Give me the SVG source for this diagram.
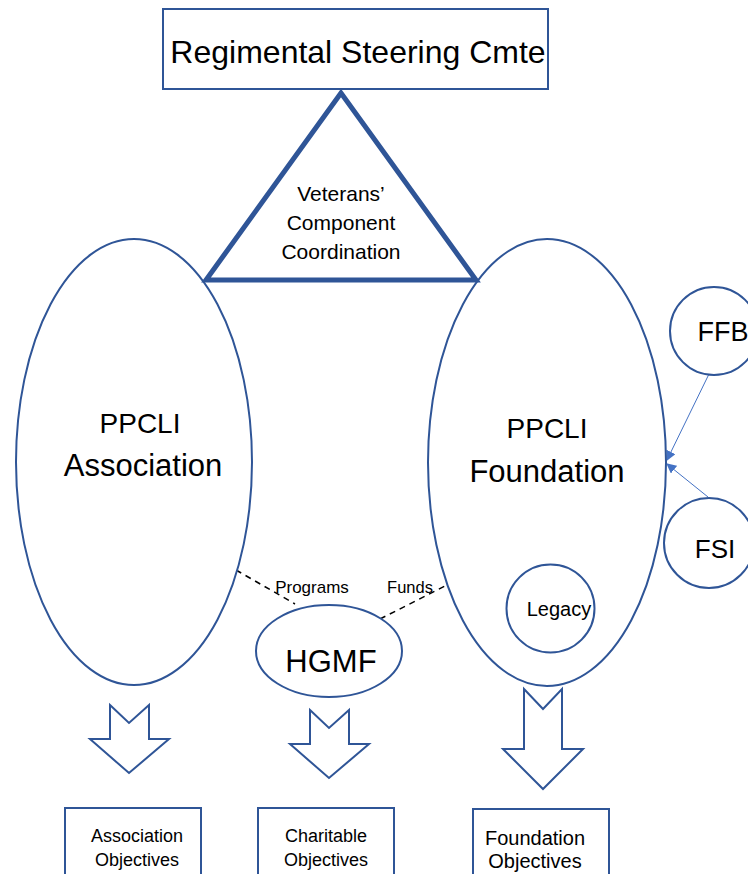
<svg xmlns="http://www.w3.org/2000/svg" width="748" height="874" viewBox="0 0 748 874">
<style>
.s{fill:#fff;stroke:#2F5597;stroke-width:2}
.t{font-family:"Liberation Sans",Arial,sans-serif;fill:#000;text-anchor:middle}
.d{stroke:#000;stroke-width:1.5;stroke-dasharray:6,5;fill:none}
.c{stroke:#4472C4;stroke-width:1;fill:none}
</style>
<defs>
<marker id="ah" markerWidth="10" markerHeight="10" refX="9" refY="5" orient="auto" markerUnits="userSpaceOnUse">
<path d="M0,0 L10,5 L0,10 z" fill="#4472C4"/>
</marker>
</defs>
<rect width="748" height="874" fill="#fff"/>
<g id="connectors">
<line class="d" x1="236" y1="570" x2="295" y2="604"/>
<line class="d" x1="380" y1="619" x2="447" y2="585"/>
<line class="c" x1="709" y1="374" x2="667" y2="460" marker-end="url(#ah)"/>
<line class="c" x1="708" y1="497" x2="667" y2="464" marker-end="url(#ah)"/>
</g>
<g id="steering">
<rect class="s" x="163" y="9" width="385" height="80"/>
<text class="t" x="358" y="63" font-size="32">Regimental Steering Cmte</text>
</g>
<g id="association">
<ellipse class="s" cx="134" cy="462" rx="118" ry="223"/>
<text class="t" x="140" y="433" font-size="28">PPCLI</text>
<text class="t" x="143" y="476" font-size="31">Association</text>
</g>
<g id="foundation">
<ellipse class="s" cx="547" cy="462.5" rx="119" ry="223.5"/>
<text class="t" x="547" y="438" font-size="28">PPCLI</text>
<text class="t" x="547" y="482" font-size="31">Foundation</text>
</g>
<g id="triangle">
<polygon points="341,93 206,280 476,280" fill="#fff" stroke="#2F5597" stroke-width="5" stroke-linejoin="miter"/>
<text class="t" x="341" y="201" font-size="21">Veterans’</text>
<text class="t" x="341" y="230" font-size="21">Component</text>
<text class="t" x="341" y="259" font-size="21">Coordination</text>
</g>
<g id="ffb">
<circle class="s" cx="714" cy="331" r="44"/>
<text class="t" x="723" y="341" font-size="27">FFB</text>
</g>
<g id="fsi">
<circle class="s" cx="709" cy="543" r="45"/>
<text class="t" x="715" y="558" font-size="26">FSI</text>
</g>
<g id="legacy">
<circle class="s" cx="550.5" cy="608.5" r="44"/>
<text class="t" x="559" y="616" font-size="20">Legacy</text>
</g>
<g id="hgmf">
<ellipse class="s" cx="329" cy="651" rx="73" ry="46"/>
<text class="t" x="331" y="672" font-size="31">HGMF</text>
</g>
<g id="labels">
<text class="t" x="312" y="593" font-size="17">Programs</text>
<text class="t" x="410" y="593" font-size="16.5">Funds</text>
</g>
<g id="arrow1">
<polygon class="s" points="110,705 129,723 149,705 149,739 169,739 129,773 90,739 110,739"/>
</g>
<g id="arrow2">
<polygon class="s" points="310,710 329,728 349,710 349,744 369,744 329,778 290,744 310,744"/>
</g>
<g id="arrow3">
<polygon class="s" points="524,689 543,709 562,689 562,749 583,749 543,789 503,749 524,749"/>
</g>
<g id="box1">
<rect class="s" x="65" y="808" width="136" height="80"/>
<text class="t" x="137" y="842" font-size="18">Association</text>
<text class="t" x="137" y="866" font-size="18">Objectives</text>
</g>
<g id="box2">
<rect class="s" x="258" y="808" width="136" height="80"/>
<text class="t" x="326" y="842" font-size="18">Charitable</text>
<text class="t" x="326" y="866" font-size="18">Objectives</text>
</g>
<g id="box3">
<rect class="s" x="473" y="809" width="136" height="80"/>
<text class="t" x="535" y="845" font-size="20">Foundation</text>
<text class="t" x="535" y="868" font-size="20">Objectives</text>
</g>
</svg>
